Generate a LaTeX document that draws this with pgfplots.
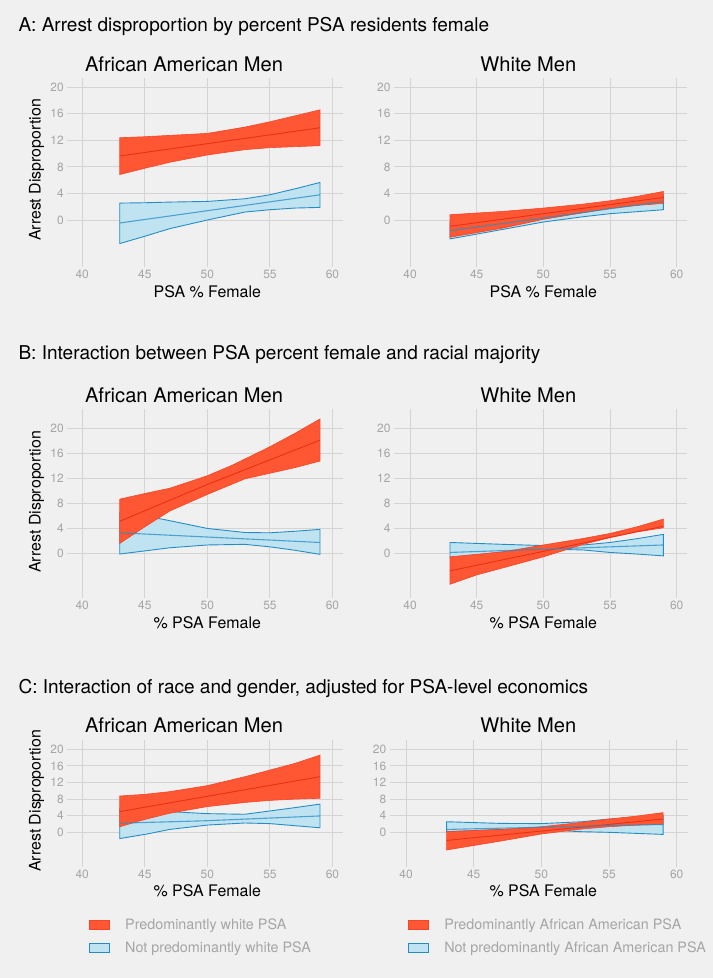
\documentclass[border=0pt]{standalone}
\usepackage{fontspec}
\setmainfont{TeX Gyre Heros}
\usepackage{pgfplots}
\pgfplotsset{compat=1.18}

\definecolor{bgc}{RGB}{240,240,240}
\definecolor{gridc}{RGB}{212,212,212}
\definecolor{tickc}{RGB}{165,165,165}
\definecolor{redfill}{RGB}{255,87,51}
\definecolor{rededge}{RGB}{248,68,38}
\definecolor{redline}{RGB}{232,48,24}
\definecolor{bluefill}{RGB}{192,227,242}
\definecolor{blueedge}{RGB}{38,140,196}

\pgfplotsset{
  panel/.style={
    scale only axis,
    xmin=38.8, xmax=60.8,
    xtick={40,45,50,55,60}, ytick={0,4,8,12,16,20},
    grid=major,
    major grid style={draw=gridc, line width=0.9bp},
    axis line style={draw=none},
    major tick length=0pt,
    tick style={draw=none},
    ticklabel style={text=tickc, font=\fontsize{12}{14}\selectfont},
    /pgf/number format/assume math mode=true,
  },
  redband/.style={fill=redfill, draw=rededge, line width=0.6bp, forget plot},
  blueband/.style={fill=bluefill, draw=blueedge, line width=0.9bp, forget plot},
  redmean/.style={draw=redline, line width=0.9bp, forget plot},
  bluemean/.style={draw=blueedge, line width=1.1bp, opacity=0.75, forget plot},
  legstyle/.style={
    legend style={draw=none, fill=none, font=\fontsize{14.4}{17}\selectfont, text=tickc,
      row sep=7bp, inner sep=0pt, /tikz/every odd column/.append style={column sep=13bp}},
    legend cell align=left,
    legend image code/.code={\draw[##1,line width=0.8bp] (0bp,-4.5bp) rectangle (20bp,4.5bp);},
  },
}

\begin{document}
\begin{tikzpicture}
\useasboundingbox (0bp,0bp) rectangle (713bp,978bp);
\fill[bgc] (0bp,0bp) rectangle (713bp,978bp);

% ---------- Titles ----------
\node[anchor=base west, font=\fontsize{19.1}{23}\selectfont] at (15bp,946.3bp) {A: Arrest disproportion by percent PSA residents female};
\node[anchor=base west, font=\fontsize{19.1}{23}\selectfont] at (15bp,618bp) {B: Interaction between PSA percent female and racial majority};
\node[anchor=base west, font=\fontsize{19.1}{23}\selectfont] at (15bp,284.7bp) {C: Interaction of race and gender, adjusted for PSA-level economics};

\foreach \yb in {906.3,575.3,245.3}{
  \node[anchor=base, font=\fontsize{20.2}{24}\selectfont] at (184bp,\yb bp) {African American Men};
  \node[anchor=base, font=\fontsize{20.2}{24}\selectfont] at (528.3bp,\yb bp) {White Men};
}
\node[anchor=base, font=\fontsize{16}{19}\selectfont] at (207.3bp,680.7bp) {PSA \% Female};
\node[anchor=base, font=\fontsize{16}{19}\selectfont] at (543.3bp,680.7bp) {PSA \% Female};
\node[anchor=base, font=\fontsize{16}{19}\selectfont] at (207.3bp,349.7bp) {\% PSA Female};
\node[anchor=base, font=\fontsize{16}{19}\selectfont] at (543.3bp,349.7bp) {\% PSA Female};
\node[anchor=base, font=\fontsize{16}{19}\selectfont] at (207.3bp,81.3bp) {\% PSA Female};
\node[anchor=base, font=\fontsize{16}{19}\selectfont] at (543.3bp,81.3bp) {\% PSA Female};
\node[anchor=base, rotate=90, font=\fontsize{16}{19}\selectfont] at (40.7bp,808bp) {Arrest Disproportion};
\node[anchor=base, rotate=90, font=\fontsize{16}{19}\selectfont] at (40.7bp,476.3bp) {Arrest Disproportion};
\node[anchor=base, rotate=90, font=\fontsize{16}{19}\selectfont] at (40.7bp,177.2bp) {Arrest Disproportion};

% ---------- A left ----------
\begin{axis}[panel, at={(67.2bp,711bp)}, anchor=south west, width=275.3bp, height=189bp, ymin=-7.08, ymax=21.4]
\addplot[blueband] coordinates {(43,2.55) (45,2.6) (47,2.7) (50,2.8) (53,3.2) (55,3.8) (57,4.7) (59,5.65)
  (59,1.9) (57,1.8) (55,1.55) (53,1.2) (50,0.0) (47,-1.3) (45,-2.45) (43,-3.55)} -- cycle;
\addplot[redband] coordinates {(43,12.4) (45,12.55) (47,12.75) (50,13.05) (53,14.0) (55,14.8) (57,15.7) (59,16.6)
  (59,11.2) (57,11.05) (55,10.9) (53,10.6) (50,9.8) (47,8.7) (45,7.8) (43,6.85)} -- cycle;
\addplot[redmean] coordinates {(43,9.65) (50,11.5) (59,13.9)};
\addplot[bluemean] coordinates {(43,-0.45) (50,1.4) (59,3.8)};
\end{axis}

% ---------- A right ----------
\begin{axis}[panel, at={(394bp,711bp)}, anchor=south west, width=293.4bp, height=189bp, ymin=-7.08, ymax=21.4]
\addplot[blueband] coordinates {(43,-0.3) (47,0.5) (50,1.2) (55,2.5) (59,3.8)
  (59,1.55) (57,1.25) (55,0.95) (53,0.5) (50,-0.3) (47,-1.4) (43,-2.85)} -- cycle;
\addplot[redband] coordinates {(43,0.8) (47,1.3) (50,1.8) (53,2.4) (55,2.9) (57,3.55) (59,4.3)
  (59,2.5) (57,2.2) (55,1.75) (53,1.1) (50,0.1) (47,-1.2) (43,-2.6)} -- cycle;
\addplot[redmean] coordinates {(43,-0.95) (50,0.95) (59,3.4)};
\addplot[bluemean] coordinates {(43,-1.6) (50,0.3) (59,2.8)};
\end{axis}

% ---------- B left ----------
\begin{axis}[panel, at={(67.2bp,380bp)}, anchor=south west, width=275.3bp, height=189bp, ymin=-7.2, ymax=23.1]
\addplot[blueband] coordinates {(43,6.5) (45,5.9) (46.5,5.4) (50,3.95) (53,3.3) (55,3.25) (57,3.5) (59,3.8)
  (59,-0.2) (57,0.45) (55,1.0) (53,1.4) (50,1.3) (47,0.85) (45,0.35) (43,-0.15)} -- cycle;
\addplot[redband] coordinates {(43,8.65) (45,9.55) (47,10.4) (50,12.4) (52,14.1) (55,17.05) (57,19.2) (59,21.5)
  (59,14.75) (57,13.7) (55,12.8) (53,11.9) (50,9.4) (47,6.75) (45,4.2) (43,1.55)} -- cycle;
\addplot[redmean] coordinates {(43,5.1) (50,11.0) (59,18.1)};
\addplot[bluemean] coordinates {(43,3.25) (59,1.7)};
\end{axis}

% ---------- B right ----------
\begin{axis}[panel, at={(394bp,380bp)}, anchor=south west, width=293.4bp, height=189bp, ymin=-7.2, ymax=23.1]
\addplot[blueband] coordinates {(43,1.7) (47,1.4) (50,1.2) (53,1.3) (55,1.7) (57,2.3) (59,3.0)
  (59,-0.45) (57,-0.15) (55,0.1) (53,0.5) (50,0.65) (47,0.2) (43,-0.75)} -- cycle;
\addplot[redband] coordinates {(43,-0.6) (47,0.2) (50,1.3) (53,2.35) (55,3.15) (57,4.2) (59,5.45)
  (59,4.05) (57,3.4) (55,2.5) (53,1.4) (50,-0.6) (47,-2.35) (45,-3.5) (43,-5.0)} -- cycle;
\addplot[redmean] coordinates {(43,-2.85) (50,0.28) (59,4.3)};
\addplot[bluemean] coordinates {(43,0.1) (59,1.3)};
\end{axis}

% ---------- C left ----------
\begin{axis}[panel, legstyle, at={(67.2bp,111bp)}, anchor=south west, width=275.3bp, height=127bp, ymin=-8.35, ymax=22.24,
  legend style={at={(0.08,-0.39)}, anchor=north west}]
\addlegendimage{fill=redfill, draw=rededge}
\addlegendentry{Predominantly white PSA}
\addlegendimage{fill=bluefill, draw=blueedge}
\addlegendentry{Not predominantly white PSA}
\addplot[blueband] coordinates {(43,5.8) (45,5.4) (47,5.0) (50,4.5) (53,4.35) (55,5.15) (57,5.95) (59,6.8)
  (59,1.1) (57,1.6) (55,2.1) (53,2.25) (50,1.75) (47,0.7) (45,-0.5) (43,-1.5)} -- cycle;
\addplot[redband] coordinates {(43,8.75) (45,9.15) (47,9.8) (50,11.25) (53,13.4) (55,15.0) (57,16.6) (59,18.6)
  (59,8.2) (57,8.0) (55,7.7) (53,7.2) (50,6.2) (47,4.6) (45,3.1) (43,1.35)} -- cycle;
\addplot[redmean] coordinates {(43,5.0) (50,8.68) (59,13.4)};
\addplot[bluemean] coordinates {(43,2.2) (50,2.8) (59,3.95)};
\end{axis}

% ---------- C right ----------
\begin{axis}[panel, legstyle, at={(389.8bp,111bp)}, anchor=south west, width=297.7bp, height=127bp, ymin=-8.35, ymax=22.24,
  legend style={at={(0.062,-0.39)}, anchor=north west}]
\addlegendimage{fill=redfill, draw=rededge}
\addlegendentry{Predominantly African American PSA}
\addlegendimage{fill=bluefill, draw=blueedge}
\addlegendentry{Not predominantly African American PSA}
\addplot[blueband] coordinates {(43,2.55) (47,2.15) (50,2.1) (53,2.55) (55,3.2) (57,3.5) (59,4.0)
  (59,-0.5) (57,-0.25) (55,0.0) (53,0.15) (50,0.6) (47,0.7) (43,0.15)} -- cycle;
\addplot[redband] coordinates {(43,0.15) (47,0.7) (50,1.35) (53,2.4) (55,3.2) (57,3.9) (59,4.75)
  (59,1.95) (57,1.75) (55,1.35) (53,0.8) (50,-0.4) (47,-2.1) (43,-4.25)} -- cycle;
\addplot[redmean] coordinates {(43,-1.95) (50,0.3) (59,3.2)};
\addplot[bluemean] coordinates {(43,0.7) (59,1.9)};
\end{axis}
\end{tikzpicture}
\end{document}
